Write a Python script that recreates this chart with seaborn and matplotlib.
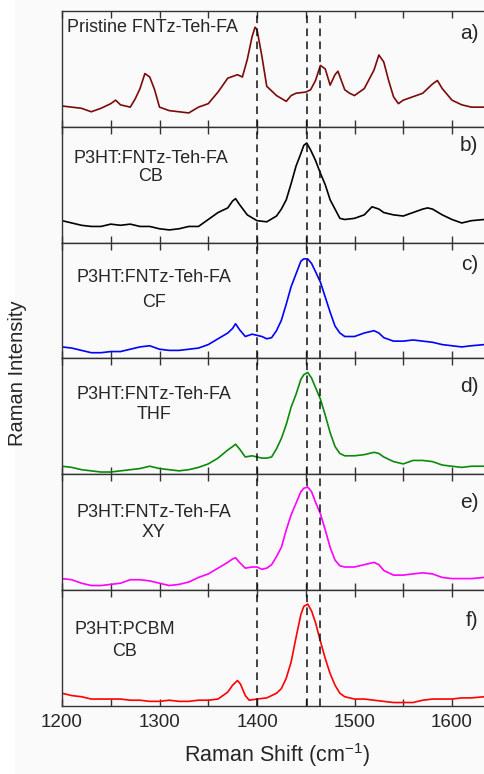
import numpy as np
import pandas as pd
import matplotlib
matplotlib.use("Agg")
import matplotlib.pyplot as plt
import matplotlib.transforms as mtransforms
from matplotlib.patches import Rectangle
import seaborn as sns

# Raman spectra (intensity normalised to 0-100 per panel)
shift_a = [1200, 1210, 1220, 1230, 1240, 1250, 1255, 1260, 1270, 1275,
           1280, 1285, 1290, 1295, 1300, 1310, 1320, 1330, 1340, 1350,
           1360, 1370, 1380, 1385, 1390, 1395, 1398, 1400, 1405, 1410,
           1420, 1430, 1435, 1440, 1450, 1455, 1460, 1465, 1470, 1475,
           1480, 1483, 1490, 1495, 1500, 1510, 1520, 1525, 1530, 1535,
           1540, 1545, 1550, 1560, 1570, 1580, 1585, 1590, 1600, 1610,
           1620, 1633]
int_a = [18, 17, 16, 13, 16, 20, 23, 19, 17, 24,
         33, 46, 43, 32, 17, 14, 13, 12, 17, 20,
         30, 42, 45, 43, 58, 78, 86, 84, 61, 35,
         27, 22, 27, 29, 30, 32, 40, 53, 50, 36,
         45, 48, 32, 29, 27, 33, 49, 62, 56, 40,
         26, 20, 23, 26, 29, 37, 40, 33, 23, 19,
         17, 17]

shift_b = [1200, 1210, 1220, 1230, 1240, 1250, 1260, 1270, 1280, 1290,
           1300, 1310, 1320, 1330, 1340, 1350, 1360, 1370, 1375, 1378,
           1382, 1390, 1400, 1410, 1420, 1425, 1430, 1435, 1440, 1445,
           1448, 1451, 1455, 1460, 1465, 1470, 1475, 1480, 1485, 1490,
           1500, 1510, 1518, 1525, 1530, 1540, 1550, 1560, 1570, 1575,
           1580, 1590, 1600, 1610, 1620, 1633]
int_b = [19, 17, 15, 14, 14, 16, 15, 16, 14, 14,
         12, 11, 12, 14, 14, 20, 26, 30, 36, 38,
         33, 24, 19, 18, 23, 29, 37, 51, 66, 77,
         84, 86, 80, 71, 60, 50, 37, 29, 21, 20,
         21, 24, 31, 29, 26, 24, 23, 26, 29, 30,
         29, 24, 20, 17, 19, 20]

shift_cde = [1200, 1210, 1220, 1230, 1240, 1250, 1260, 1270, 1280, 1290,
             1300, 1310, 1320, 1330, 1340, 1350, 1360, 1370, 1375, 1378,
             1382, 1388, 1395, 1400, 1405, 1410, 1415, 1420, 1425, 1430,
             1435, 1440, 1445, 1448, 1452, 1456, 1460, 1465, 1470, 1475,
             1480, 1485, 1490, 1500, 1510, 1520, 1525, 1530, 1540, 1550,
             1560, 1570, 1580, 1590, 1600, 1610, 1620, 1633]
int_c = [10, 9, 7, 5, 5, 6, 6, 8, 10, 11,
         8, 7, 7, 8, 9, 12, 17, 22, 26, 30,
         25, 19, 21, 20, 19, 17, 18, 24, 33, 47,
         62, 73, 84, 86, 86, 82, 75, 66, 53, 40,
         28, 22, 19, 19, 22, 24, 22, 18, 15, 15,
         16, 15, 14, 12, 11, 10, 11, 12]
int_d = [7, 6, 4, 3, 2, 2, 3, 4, 5, 7,
         5, 4, 3, 4, 6, 9, 14, 21, 24, 26,
         22, 15, 16, 15, 14, 14, 15, 22, 31, 43,
         58, 69, 82, 86, 88, 83, 75, 65, 51, 36,
         24, 18, 16, 16, 17, 19, 18, 15, 11, 9,
         12, 12, 11, 8, 7, 6, 7, 7]
int_e = [10, 9, 6, 4, 4, 5, 6, 9, 9, 8,
         6, 4, 5, 7, 11, 14, 19, 24, 27, 28,
         24, 19, 20, 20, 18, 19, 22, 29, 37, 52,
         65, 75, 85, 88, 89, 85, 76, 66, 52, 37,
         26, 21, 20, 20, 22, 24, 22, 17, 13, 13,
         14, 15, 14, 11, 10, 10, 10, 11]

shift_f = [1200, 1210, 1220, 1230, 1240, 1250, 1260, 1270, 1280, 1290,
           1300, 1310, 1320, 1330, 1340, 1350, 1360, 1370, 1375, 1380,
           1383, 1388, 1392, 1400, 1410, 1420, 1425, 1430, 1435, 1440,
           1445, 1448, 1452, 1456, 1460, 1465, 1470, 1475, 1480, 1485,
           1490, 1500, 1510, 1520, 1530, 1540, 1550, 1560, 1570, 1580,
           1590, 1600, 1610, 1620, 1633]
int_f = [11, 9, 8, 6, 6, 6, 6, 5, 5, 4,
         4, 5, 4, 4, 5, 5, 6, 12, 18, 22,
         19, 9, 5, 6, 7, 11, 15, 24, 38, 59,
         79, 86, 88, 82, 72, 56, 41, 28, 18, 11,
         8, 6, 6, 5, 4, 3, 3, 3, 5, 6,
         6, 6, 7, 7, 8]

samples = ["Pristine FNTz-Teh-FA", "P3HT:FNTz-Teh-FA", "P3HT:FNTz-Teh-FA",
           "P3HT:FNTz-Teh-FA", "P3HT:FNTz-Teh-FA", "P3HT:PCBM"]
solvents = ["", "CB", "CF", "THF", "XY", "CB"]
letters = ["a)", "b)", "c)", "d)", "e)", "f)"]
colors = ["#7b0a0a", "#000000", "#0000ff", "#0a8a0a", "#ff00ff", "#ff0000"]
ref_lines = [1400, 1451, 1465]
xticks = [1200, 1300, 1400, 1500, 1600]

spectra = [(shift_a, int_a), (shift_b, int_b), (shift_cde, int_c),
           (shift_cde, int_d), (shift_cde, int_e), (shift_f, int_f)]

sns.set_theme(style="ticks")
plt.rcParams["font.family"] = ["Liberation Sans", "DejaVu Sans"]
plt.rcParams["mathtext.fontset"] = "custom"
plt.rcParams["mathtext.rm"] = "Liberation Sans"
plt.rcParams["mathtext.it"] = "Liberation Sans"

bg = "#fafafa"
f = plt.figure(figsize=(4.84, 7.74), dpi=100, facecolor=bg)
f.patches.append(Rectangle((0, 0), 15 / 484, 1, transform=f.transFigure,
                           facecolor="white", edgecolor="none", zorder=0))
gs = f.add_gridspec(6, 1, left=62 / 484, right=491 / 484,
                    top=1 - 11 / 774, bottom=1 - 706 / 774, hspace=0)

# text positions (axes fraction) per panel: line1, line2, letter
pos = [(0.86, None, 0.81), (0.73, 0.57, 0.84), (0.70, 0.48, 0.81),
       (0.69, 0.52, 0.76), (0.67, 0.50, 0.76), (0.66, 0.47, 0.74)]
xcen = [1205, 1291, 1294, 1294, 1294, 1264]
fs = 12.9

axes = []
for i, (x, y) in enumerate(spectra):
    ax = f.add_subplot(gs[i])
    ax.set_facecolor(bg)
    df = pd.DataFrame({"shift": x, "intensity": y})
    sns.lineplot(data=df, x="shift", y="intensity", ax=ax,
                 color=colors[i], lw=1.2)
    for xv in ref_lines:
        ax.axvline(xv, color="#111111", ls=(0, (5, 3.5)), lw=1.1)
    ax.set_xlim(1200, 1640)
    ax.set_ylim(0, 100)
    ax.set_yticks([])
    ax.set_xticks(xticks)
    ax.set_xticks([1250, 1350, 1450, 1550], minor=True)
    ax.tick_params(axis="x", which="both", direction="in", top=True,
                   bottom=True, length=5, width=1, color="#333333",
                   labelsize=13.5, pad=6)
    ax.set_xlabel("")
    ax.set_ylabel("")
    for s in ["top", "bottom", "left"]:
        ax.spines[s].set_color("#333333")
        ax.spines[s].set_linewidth(1)
    ax.spines["right"].set_visible(False)
    trans = mtransforms.blended_transform_factory(ax.transData, ax.transAxes)
    l1, l2, l3 = pos[i]
    if i == 0:
        ax.text(xcen[i], l1, samples[i], transform=trans, ha="left",
                va="center", fontsize=fs)
    else:
        ax.text(xcen[i], l1, samples[i], transform=trans, ha="center",
                va="center", fontsize=fs)
        ax.text(xcen[i], l2, solvents[i], transform=trans, ha="center",
                va="center", fontsize=fs)
    ax.text(1627, l3, letters[i], transform=trans, ha="right",
            va="center", fontsize=15)
    if i < 5:
        ax.tick_params(axis="x", labelbottom=False)
    axes.append(ax)

axes[-1].set_xlabel("Raman Shift (cm$^{-1}$)", fontsize=15.5, labelpad=7)
f.text(18 / 484, 1 - 373 / 774, "Raman Intensity", rotation=90,
       ha="center", va="center", fontsize=14.5)

f.savefig("out.png", dpi=100, facecolor=bg)
